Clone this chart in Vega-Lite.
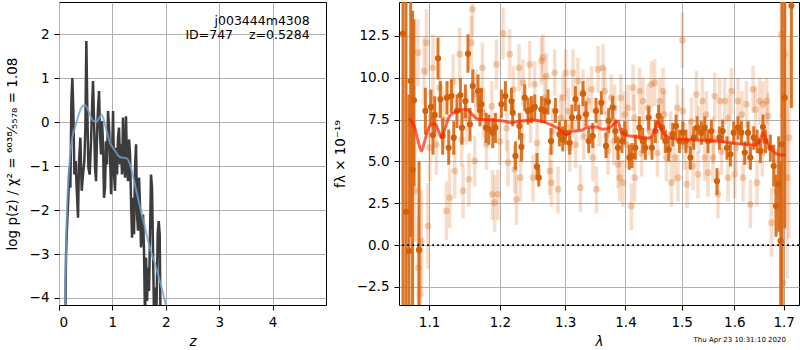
{
  "$schema": "https://vega.github.io/schema/vega-lite/v6.json",
  "padding": {"left": 4, "top": 1, "right": 0, "bottom": 0},
  "background": "white",
  "spacing": 5,
  "config": {
    "font": "DejaVu Sans",
    "view": {"stroke": "#000", "strokeWidth": 1},
    "axis": {"grid": true, "gridColor": "#b0b0b0", "gridWidth": 1, "domain": false, "tickColor": "#000", "tickSize": 5, "labelPadding": 5, "labelFontSize": 13.5, "labelColor": "#000", "titleFontSize": 13.5, "titleFontWeight": "normal", "titleColor": "#000"},
    "axisX": {"titlePadding": 6}
  },
  "datasets": {
    "pz": [{"z":0.113,"p":-5},{"z":0.132,"p":-3.01},{"z":0.157,"p":-2.17},{"z":0.175,"p":-1.72},{"z":0.194,"p":-1.03},{"z":0.213,"p":-1.49},{"z":0.232,"p":0.48},{"z":0.25,"p":1.01},{"z":0.269,"p":0.26},{"z":0.288,"p":-1.19},{"z":0.313,"p":-0.88},{"z":0.331,"p":-1.49},{"z":0.356,"p":-2.17},{"z":0.375,"p":-0.88},{"z":0.4,"p":-0.35},{"z":0.425,"p":-1.56},{"z":0.45,"p":-1.19},{"z":0.475,"p":-0.88},{"z":0.494,"p":-0.12},{"z":0.512,"p":1.85},{"z":0.531,"p":0.26},{"z":0.55,"p":-1.03},{"z":0.575,"p":-1.19},{"z":0.6,"p":-0.43},{"z":0.619,"p":0.33},{"z":0.637,"p":0.94},{"z":0.656,"p":0.03},{"z":0.675,"p":-1.03},{"z":0.694,"p":-1.34},{"z":0.712,"p":-0.28},{"z":0.731,"p":0.33},{"z":0.75,"p":0.71},{"z":0.768,"p":-0.28},{"z":0.787,"p":-0.73},{"z":0.806,"p":0.03},{"z":0.825,"p":-0.5},{"z":0.843,"p":-1.72},{"z":0.862,"p":-1.49},{"z":0.881,"p":-0.43},{"z":0.9,"p":-0.96},{"z":0.918,"p":0.26},{"z":0.937,"p":-0.12},{"z":0.956,"p":-0.73},{"z":0.975,"p":-1.64},{"z":0.993,"p":-0.81},{"z":1.012,"p":0.26},{"z":1.031,"p":-1.19},{"z":1.049,"p":-1.56},{"z":1.068,"p":-0.58},{"z":1.087,"p":-1.19},{"z":1.105,"p":-0.35},{"z":1.124,"p":-0.12},{"z":1.143,"p":-0.96},{"z":1.162,"p":-0.5},{"z":1.18,"p":-1.19},{"z":1.199,"p":0.11},{"z":1.218,"p":-0.88},{"z":1.237,"p":-1.26},{"z":1.255,"p":0.14},{"z":1.274,"p":-1.03},{"z":1.293,"p":-1.34},{"z":1.312,"p":-0.39},{"z":1.33,"p":-0.73},{"z":1.349,"p":-1.79},{"z":1.368,"p":-2.63},{"z":1.386,"p":-1.72},{"z":1.405,"p":-2.55},{"z":1.424,"p":-1.03},{"z":1.443,"p":-0.5},{"z":1.461,"p":-2.1},{"z":1.48,"p":-2.47},{"z":1.499,"p":-1.26},{"z":1.518,"p":-1.94},{"z":1.536,"p":-2.85},{"z":1.555,"p":-2.47},{"z":1.574,"p":-2.1},{"z":1.592,"p":-2.93},{"z":1.611,"p":-4.5},{"z":1.63,"p":-3.08},{"z":1.649,"p":-4.07},{"z":1.667,"p":-3.31},{"z":1.686,"p":-3.84},{"z":1.705,"p":-2.55},{"z":1.723,"p":-1.19},{"z":1.742,"p":-1.49},{"z":1.761,"p":-2.93},{"z":1.78,"p":-4.5},{"z":1.805,"p":-3.76},{"z":1.823,"p":-4.5},{"z":1.848,"p":-2.55},{"z":1.867,"p":-2.25},{"z":1.886,"p":-2.55},{"z":1.904,"p":-5}],
    "pzs": [{"z":0.112,"p":-4.3},{"z":0.144,"p":-2.25},{"z":0.19,"p":-1.03},{"z":0.237,"p":-0.43},{"z":0.3,"p":-0.12},{"z":0.36,"p":0.14},{"z":0.44,"p":0.37},{"z":0.49,"p":0.39},{"z":0.55,"p":0.26},{"z":0.64,"p":0.03},{"z":0.705,"p":0.015},{"z":0.8,"p":0.18},{"z":0.86,"p":-0.05},{"z":0.955,"p":-0.46},{"z":1.05,"p":-0.65},{"z":1.14,"p":-0.79},{"z":1.27,"p":-0.82},{"z":1.33,"p":-0.96},{"z":1.42,"p":-1.41},{"z":1.52,"p":-1.94},{"z":1.61,"p":-2.4},{"z":1.7,"p":-2.85},{"z":1.82,"p":-3.31},{"z":1.92,"p":-3.76},{"z":2.02,"p":-4.25}],
    "ann": [{"z":4.695,"p":2.3,"t":"j003444m4308"},{"z":4.695,"p":1.98,"t":"ID=747\u00a0\u00a0\u00a0\u00a0z=0.5284"}],
    "dk": [{"lam":1.0654,"f":12.64,"lo":-4,"hi":16},{"lam":1.0694,"f":2.0,"lo":-4,"hi":16},{"lam":1.0733,"f":-0.35,"lo":-4,"hi":9},{"lam":1.0755,"f":9.81,"lo":0.5,"hi":16},{"lam":1.078,"f":4.5,"lo":-4,"hi":14},{"lam":1.0799,"f":8.66,"lo":3.5,"hi":13.5},{"lam":1.0866,"f":-0.29,"lo":-4,"hi":5.0},{"lam":1.0951,"f":8.02,"lo":6.6,"hi":9.4},{"lam":1.1027,"f":8.26,"lo":7.2,"hi":9.3},{"lam":1.1054,"f":6.58,"lo":5.4,"hi":7.8},{"lam":1.1077,"f":7.78,"lo":6.7,"hi":8.9},{"lam":1.1122,"f":11.17,"lo":9.9,"hi":12.4},{"lam":1.1155,"f":8.72,"lo":7.6,"hi":9.8},{"lam":1.1186,"f":6.52,"lo":5.4,"hi":7.6},{"lam":1.1246,"f":8.81,"lo":7.8,"hi":9.8},{"lam":1.1269,"f":5.82,"lo":4.8,"hi":6.9},{"lam":1.1307,"f":8.91,"lo":7.9,"hi":9.9},{"lam":1.1339,"f":6.42,"lo":5.4,"hi":7.4},{"lam":1.1384,"f":8.02,"lo":7.0,"hi":9.0},{"lam":1.1432,"f":8.95,"lo":7.9,"hi":10.0},{"lam":1.1454,"f":7.02,"lo":6.0,"hi":8.0},{"lam":1.1502,"f":8.61,"lo":7.6,"hi":9.6},{"lam":1.1539,"f":11.44,"lo":10.3,"hi":12.6},{"lam":1.1567,"f":7.22,"lo":6.2,"hi":8.2},{"lam":1.1606,"f":9.51,"lo":8.5,"hi":10.5},{"lam":1.1682,"f":9.21,"lo":8.2,"hi":10.2},{"lam":1.171,"f":8.06,"lo":7.1,"hi":9.0},{"lam":1.1731,"f":8.42,"lo":7.5,"hi":9.4},{"lam":1.1797,"f":7.02,"lo":6.1,"hi":7.9},{"lam":1.1837,"f":6.92,"lo":6.0,"hi":7.8},{"lam":1.1895,"f":6.72,"lo":5.8,"hi":7.6},{"lam":1.1934,"f":7.02,"lo":6.1,"hi":7.9},{"lam":1.2022,"f":8.42,"lo":7.6,"hi":9.3},{"lam":1.2081,"f":8.91,"lo":8.0,"hi":9.8},{"lam":1.2171,"f":8.61,"lo":7.8,"hi":9.4},{"lam":1.219,"f":7.92,"lo":7.1,"hi":8.7},{"lam":1.2231,"f":5.33,"lo":4.5,"hi":6.2},{"lam":1.2291,"f":7.12,"lo":6.3,"hi":7.9},{"lam":1.2321,"f":5.87,"lo":5.0,"hi":6.7},{"lam":1.2371,"f":8.81,"lo":8.0,"hi":9.6},{"lam":1.2421,"f":8.02,"lo":7.2,"hi":8.8},{"lam":1.2473,"f":8.12,"lo":7.3,"hi":8.9},{"lam":1.2524,"f":8.26,"lo":7.5,"hi":9.0},{"lam":1.2559,"f":4.69,"lo":3.9,"hi":5.5},{"lam":1.2586,"f":4.03,"lo":3.5,"hi":4.6},{"lam":1.2627,"f":8.12,"lo":7.3,"hi":8.9},{"lam":1.2679,"f":8.02,"lo":7.3,"hi":8.8},{"lam":1.273,"f":8.57,"lo":7.8,"hi":9.3},{"lam":1.2777,"f":6.22,"lo":5.4,"hi":7.0},{"lam":1.2846,"f":8.02,"lo":7.3,"hi":8.8},{"lam":1.2909,"f":6.62,"lo":5.9,"hi":7.4},{"lam":1.2962,"f":6.32,"lo":5.6,"hi":7.1},{"lam":1.3005,"f":6.72,"lo":6.0,"hi":7.5},{"lam":1.3073,"f":6.12,"lo":5.4,"hi":6.9},{"lam":1.311,"f":7.62,"lo":6.9,"hi":8.4},{"lam":1.3165,"f":8.72,"lo":8.0,"hi":9.5},{"lam":1.3219,"f":7.62,"lo":6.9,"hi":8.4},{"lam":1.3289,"f":9.05,"lo":8.3,"hi":9.8},{"lam":1.3338,"f":7.82,"lo":7.1,"hi":8.6},{"lam":1.3382,"f":6.22,"lo":5.5,"hi":7.0},{"lam":1.3448,"f":6.52,"lo":5.8,"hi":7.3},{"lam":1.3503,"f":8.02,"lo":7.3,"hi":8.8},{"lam":1.3592,"f":8.51,"lo":7.8,"hi":9.2},{"lam":1.3669,"f":5.93,"lo":5.2,"hi":6.7},{"lam":1.3714,"f":7.42,"lo":6.7,"hi":8.2},{"lam":1.3782,"f":8.22,"lo":7.5,"hi":8.9},{"lam":1.3828,"f":6.82,"lo":6.1,"hi":7.5},{"lam":1.3872,"f":5.82,"lo":5.1,"hi":6.5},{"lam":1.394,"f":6.22,"lo":5.5,"hi":7.0},{"lam":1.3987,"f":6.72,"lo":6.0,"hi":7.4},{"lam":1.4067,"f":5.23,"lo":4.5,"hi":6.0},{"lam":1.4112,"f":5.33,"lo":4.6,"hi":6.1},{"lam":1.4171,"f":5.82,"lo":5.1,"hi":6.6},{"lam":1.4241,"f":7.02,"lo":6.3,"hi":7.7},{"lam":1.4299,"f":6.22,"lo":5.5,"hi":7.0},{"lam":1.4346,"f":5.82,"lo":5.1,"hi":6.5},{"lam":1.4404,"f":7.62,"lo":6.9,"hi":8.3},{"lam":1.4463,"f":5.82,"lo":5.1,"hi":6.5},{"lam":1.4523,"f":6.82,"lo":6.1,"hi":7.5},{"lam":1.4582,"f":7.72,"lo":7.0,"hi":8.4},{"lam":1.4642,"f":7.02,"lo":6.3,"hi":7.7},{"lam":1.4703,"f":6.22,"lo":5.5,"hi":6.9},{"lam":1.4763,"f":5.72,"lo":5.0,"hi":6.4},{"lam":1.4836,"f":6.62,"lo":5.9,"hi":7.3},{"lam":1.4896,"f":7.12,"lo":6.4,"hi":7.8},{"lam":1.4958,"f":6.22,"lo":5.5,"hi":6.9},{"lam":1.5019,"f":6.72,"lo":6.0,"hi":7.4},{"lam":1.508,"f":6.22,"lo":5.5,"hi":6.9},{"lam":1.5161,"f":5.23,"lo":4.5,"hi":5.9},{"lam":1.5223,"f":6.42,"lo":5.7,"hi":7.1},{"lam":1.5285,"f":7.02,"lo":6.3,"hi":7.7},{"lam":1.5367,"f":6.72,"lo":6.0,"hi":7.4},{"lam":1.543,"f":7.02,"lo":6.3,"hi":7.7},{"lam":1.5492,"f":6.22,"lo":5.5,"hi":6.9},{"lam":1.5557,"f":6.82,"lo":6.1,"hi":7.5},{"lam":1.5664,"f":3.83,"lo":3.0,"hi":4.6},{"lam":1.571,"f":6.42,"lo":5.7,"hi":7.1},{"lam":1.5774,"f":6.82,"lo":6.1,"hi":7.5},{"lam":1.5858,"f":5.82,"lo":5.1,"hi":6.5},{"lam":1.5924,"f":5.43,"lo":4.7,"hi":6.1},{"lam":1.5989,"f":6.72,"lo":6.0,"hi":7.4},{"lam":1.6074,"f":7.02,"lo":6.3,"hi":7.7},{"lam":1.6141,"f":6.72,"lo":6.0,"hi":7.4},{"lam":1.6207,"f":5.53,"lo":4.8,"hi":6.2},{"lam":1.6272,"f":6.72,"lo":6.0,"hi":7.4},{"lam":1.632,"f":5.23,"lo":4.5,"hi":5.9},{"lam":1.6386,"f":6.42,"lo":5.7,"hi":7.1},{"lam":1.6453,"f":6.22,"lo":5.5,"hi":6.9},{"lam":1.6521,"f":5.63,"lo":4.9,"hi":6.3},{"lam":1.6574,"f":7.06,"lo":6.3,"hi":7.8},{"lam":1.6623,"f":6.22,"lo":5.5,"hi":6.9},{"lam":1.6725,"f":5.82,"lo":5.0,"hi":6.6},{"lam":1.6793,"f":4.73,"lo":3.5,"hi":6.0},{"lam":1.6841,"f":2.34,"lo":0.5,"hi":4.2},{"lam":1.6896,"f":3.64,"lo":0.8,"hi":6.5},{"lam":1.6938,"f":0.25,"lo":-4,"hi":5},{"lam":1.6965,"f":6.03,"lo":-4,"hi":16},{"lam":1.7022,"f":8.81,"lo":1,"hi":16},{"lam":1.7162,"f":14.3,"lo":8.2,"hi":16}],
    "lt": [{"lam":1.0778,"f":9.41,"lo":6.4,"hi":12.4},{"lam":1.0809,"f":3.24,"lo":0.2,"hi":6.2},{"lam":1.0852,"f":11.5,"lo":9.5,"hi":13.5},{"lam":1.0857,"f":-1.35,"lo":-4.4,"hi":1.7},{"lam":1.0884,"f":-2.94,"lo":-5,"hi":0.1},{"lam":1.0898,"f":0.25,"lo":-2.8,"hi":3.3},{"lam":1.0933,"f":10.4,"lo":8.4,"hi":12.4},{"lam":1.0965,"f":12.1,"lo":10.1,"hi":14.1},{"lam":1.0986,"f":1.14,"lo":-1.4,"hi":3.7},{"lam":1.1009,"f":5.82,"lo":3.8,"hi":7.8},{"lam":1.1054,"f":10.6,"lo":8.6,"hi":12.6},{"lam":1.11,"f":6.0,"lo":4.2,"hi":7.8},{"lam":1.1145,"f":9.41,"lo":7.6,"hi":11.2},{"lam":1.12,"f":7.5,"lo":5.8,"hi":9.2},{"lam":1.1237,"f":2.04,"lo":0.3,"hi":3.8},{"lam":1.1283,"f":2.83,"lo":1.0,"hi":4.6},{"lam":1.133,"f":9.8,"lo":8.2,"hi":11.4},{"lam":1.1353,"f":4.43,"lo":2.8,"hi":6.0},{"lam":1.1422,"f":11.41,"lo":9.8,"hi":13.0},{"lam":1.145,"f":6.3,"lo":4.7,"hi":7.9},{"lam":1.1469,"f":3.24,"lo":1.6,"hi":4.8},{"lam":1.152,"f":7.6,"lo":6.0,"hi":9.2},{"lam":1.1553,"f":3.93,"lo":2.3,"hi":5.5},{"lam":1.1587,"f":12.1,"lo":10.5,"hi":13.7},{"lam":1.1602,"f":14.1,"lo":12.5,"hi":15.7},{"lam":1.1635,"f":5.03,"lo":3.5,"hi":6.5},{"lam":1.165,"f":9.0,"lo":7.5,"hi":10.5},{"lam":1.1745,"f":10.6,"lo":9.1,"hi":12.1},{"lam":1.176,"f":7.9,"lo":6.4,"hi":9.4},{"lam":1.1803,"f":6.03,"lo":4.5,"hi":7.5},{"lam":1.188,"f":8.3,"lo":6.8,"hi":9.8},{"lam":1.189,"f":3.04,"lo":1.5,"hi":4.5},{"lam":1.1924,"f":2.54,"lo":0.8,"hi":4.2},{"lam":1.1949,"f":10.8,"lo":9.3,"hi":12.3},{"lam":1.1972,"f":3.04,"lo":1.5,"hi":4.5},{"lam":1.2,"f":6.2,"lo":4.8,"hi":7.6},{"lam":1.2046,"f":12.66,"lo":11.1,"hi":14.2},{"lam":1.21,"f":7.0,"lo":5.6,"hi":8.4},{"lam":1.212,"f":4.93,"lo":3.5,"hi":6.3},{"lam":1.2145,"f":11.41,"lo":9.9,"hi":12.9},{"lam":1.22,"f":9.3,"lo":7.9,"hi":10.7},{"lam":1.222,"f":4.53,"lo":3.1,"hi":5.9},{"lam":1.2246,"f":2.74,"lo":1.2,"hi":4.2},{"lam":1.2285,"f":10.6,"lo":9.2,"hi":12.0},{"lam":1.2306,"f":4.03,"lo":2.6,"hi":5.4},{"lam":1.233,"f":6.5,"lo":5.1,"hi":7.9},{"lam":1.2345,"f":9.71,"lo":8.3,"hi":11.1},{"lam":1.2447,"f":10.8,"lo":9.4,"hi":12.2},{"lam":1.246,"f":7.5,"lo":6.1,"hi":8.9},{"lam":1.2498,"f":4.03,"lo":2.6,"hi":5.4},{"lam":1.2524,"f":9.61,"lo":8.2,"hi":11.0},{"lam":1.256,"f":6.1,"lo":4.7,"hi":7.5},{"lam":1.2627,"f":11.0,"lo":9.6,"hi":12.4},{"lam":1.2652,"f":11.2,"lo":9.8,"hi":12.6},{"lam":1.268,"f":8.8,"lo":7.4,"hi":10.2},{"lam":1.2705,"f":10.1,"lo":8.7,"hi":11.5},{"lam":1.2756,"f":4.43,"lo":3.0,"hi":5.8},{"lam":1.2783,"f":3.73,"lo":2.3,"hi":5.1},{"lam":1.28,"f":6.8,"lo":5.4,"hi":8.2},{"lam":1.2835,"f":10.3,"lo":8.9,"hi":11.7},{"lam":1.2887,"f":3.34,"lo":1.9,"hi":4.7},{"lam":1.293,"f":7.6,"lo":6.2,"hi":9.0},{"lam":1.2966,"f":8.81,"lo":7.4,"hi":10.2},{"lam":1.3009,"f":10.3,"lo":8.9,"hi":11.7},{"lam":1.305,"f":8.0,"lo":6.6,"hi":9.4},{"lam":1.3073,"f":5.82,"lo":4.4,"hi":7.2},{"lam":1.3126,"f":10.3,"lo":8.9,"hi":11.7},{"lam":1.317,"f":6.0,"lo":4.6,"hi":7.4},{"lam":1.3207,"f":9.81,"lo":8.4,"hi":11.2},{"lam":1.3246,"f":3.43,"lo":2.0,"hi":4.8},{"lam":1.3289,"f":9.11,"lo":7.7,"hi":10.5},{"lam":1.33,"f":6.5,"lo":5.1,"hi":7.9},{"lam":1.337,"f":8.61,"lo":7.2,"hi":10.0},{"lam":1.343,"f":9.3,"lo":7.9,"hi":10.7},{"lam":1.3453,"f":5.23,"lo":3.8,"hi":6.6},{"lam":1.3509,"f":3.34,"lo":1.9,"hi":4.7},{"lam":1.3536,"f":10.5,"lo":9.1,"hi":11.9},{"lam":1.356,"f":7.3,"lo":5.9,"hi":8.7},{"lam":1.3619,"f":10.6,"lo":9.2,"hi":12.0},{"lam":1.3648,"f":9.21,"lo":7.8,"hi":10.6},{"lam":1.368,"f":6.6,"lo":5.2,"hi":8.0},{"lam":1.3703,"f":5.63,"lo":4.2,"hi":7.0},{"lam":1.376,"f":8.81,"lo":7.4,"hi":10.2},{"lam":1.38,"f":6.2,"lo":4.8,"hi":7.6},{"lam":1.3816,"f":8.21,"lo":6.8,"hi":9.6},{"lam":1.3872,"f":4.83,"lo":3.4,"hi":6.2},{"lam":1.3901,"f":4.03,"lo":2.6,"hi":5.4},{"lam":1.392,"f":8.8,"lo":7.4,"hi":10.2},{"lam":1.3957,"f":3.73,"lo":2.3,"hi":5.1},{"lam":1.3987,"f":7.82,"lo":6.4,"hi":9.2},{"lam":1.402,"f":6.0,"lo":4.6,"hi":7.4},{"lam":1.4043,"f":8.21,"lo":6.8,"hi":9.6},{"lam":1.4102,"f":2.34,"lo":0.9,"hi":3.7},{"lam":1.4129,"f":9.41,"lo":8.0,"hi":10.8},{"lam":1.415,"f":7.6,"lo":6.2,"hi":9.0},{"lam":1.4159,"f":4.03,"lo":2.6,"hi":5.4},{"lam":1.4246,"f":9.21,"lo":7.8,"hi":10.6},{"lam":1.428,"f":5.5,"lo":4.1,"hi":6.9},{"lam":1.4304,"f":8.61,"lo":7.2,"hi":10.0},{"lam":1.4392,"f":8.21,"lo":6.8,"hi":9.6},{"lam":1.442,"f":6.8,"lo":5.4,"hi":8.2},{"lam":1.4452,"f":9.61,"lo":8.2,"hi":11.0},{"lam":1.4511,"f":9.71,"lo":8.3,"hi":11.1},{"lam":1.456,"f":5.5,"lo":4.1,"hi":6.9},{"lam":1.46,"f":8.61,"lo":7.2,"hi":10.0},{"lam":1.466,"f":9.21,"lo":7.8,"hi":10.6},{"lam":1.468,"f":7.8,"lo":6.4,"hi":9.2},{"lam":1.4721,"f":5.23,"lo":3.8,"hi":6.6},{"lam":1.48,"f":6.6,"lo":5.2,"hi":8.0},{"lam":1.4812,"f":3.73,"lo":2.3,"hi":5.1},{"lam":1.4872,"f":5.23,"lo":3.8,"hi":6.6},{"lam":1.492,"f":8.2,"lo":6.8,"hi":9.6},{"lam":1.4932,"f":4.03,"lo":2.6,"hi":5.4},{"lam":1.5013,"f":12.24,"lo":10.6,"hi":13.9},{"lam":1.5019,"f":8.02,"lo":6.6,"hi":9.4},{"lam":1.506,"f":5.9,"lo":4.5,"hi":7.3},{"lam":1.5098,"f":3.64,"lo":2.2,"hi":5.0},{"lam":1.5148,"f":6.03,"lo":4.6,"hi":7.4},{"lam":1.518,"f":7.4,"lo":6.0,"hi":8.8},{"lam":1.521,"f":4.73,"lo":3.3,"hi":6.1},{"lam":1.5273,"f":9.01,"lo":7.6,"hi":10.4},{"lam":1.5303,"f":4.23,"lo":2.8,"hi":5.6},{"lam":1.532,"f":6.9,"lo":5.5,"hi":8.3},{"lam":1.5386,"f":8.61,"lo":7.2,"hi":10.0},{"lam":1.543,"f":5.23,"lo":3.8,"hi":6.6},{"lam":1.546,"f":7.8,"lo":6.4,"hi":9.2},{"lam":1.5492,"f":4.33,"lo":2.9,"hi":5.7},{"lam":1.5587,"f":5.23,"lo":3.8,"hi":6.6},{"lam":1.56,"f":6.3,"lo":4.9,"hi":7.7},{"lam":1.562,"f":8.91,"lo":7.5,"hi":10.3},{"lam":1.5683,"f":3.04,"lo":1.6,"hi":4.4},{"lam":1.5716,"f":8.61,"lo":7.2,"hi":10.0},{"lam":1.575,"f":5.6,"lo":4.2,"hi":7.0},{"lam":1.5813,"f":8.61,"lo":7.2,"hi":10.0},{"lam":1.5877,"f":4.03,"lo":2.6,"hi":5.4},{"lam":1.589,"f":7.6,"lo":6.2,"hi":9.0},{"lam":1.5943,"f":9.21,"lo":7.8,"hi":10.6},{"lam":1.6009,"f":4.23,"lo":2.8,"hi":5.6},{"lam":1.603,"f":5.8,"lo":4.4,"hi":7.2},{"lam":1.6074,"f":8.61,"lo":7.2,"hi":10.0},{"lam":1.615,"f":7.8,"lo":6.4,"hi":9.2},{"lam":1.6173,"f":4.03,"lo":2.6,"hi":5.4},{"lam":1.624,"f":8.42,"lo":7.0,"hi":9.8},{"lam":1.629,"f":6.0,"lo":4.6,"hi":7.4},{"lam":1.632,"f":2.44,"lo":1.0,"hi":3.9},{"lam":1.6372,"f":9.31,"lo":7.9,"hi":10.7},{"lam":1.642,"f":8.1,"lo":6.7,"hi":9.5},{"lam":1.6453,"f":3.73,"lo":2.3,"hi":5.1},{"lam":1.6507,"f":8.61,"lo":7.2,"hi":10.0},{"lam":1.656,"f":5.5,"lo":4.1,"hi":6.9},{"lam":1.6574,"f":8.42,"lo":7.0,"hi":9.8},{"lam":1.665,"f":8.6,"lo":7.2,"hi":10.0},{"lam":1.6676,"f":7.72,"lo":6.3,"hi":9.1},{"lam":1.6746,"f":1.34,"lo":-0.7,"hi":3.4},{"lam":1.6849,"f":3.24,"lo":0.7,"hi":5.7},{"lam":1.6953,"f":12.6,"lo":7.6,"hi":16},{"lam":1.6986,"f":-2.24,"lo":-5,"hi":2.8},{"lam":1.7022,"f":11.41,"lo":5.4,"hi":16},{"lam":1.707,"f":4.03,"lo":-2,"hi":10},{"lam":1.7111,"f":6.42,"lo":0.4,"hi":12.4}],
    "model": [{"lam":1.0733,"f":7.58},{"lam":1.0809,"f":7.02},{"lam":1.0853,"f":6.22},{"lam":1.0898,"f":5.63},{"lam":1.0942,"f":6.22},{"lam":1.1009,"f":7.12},{"lam":1.1077,"f":7.26},{"lam":1.1122,"f":6.92},{"lam":1.1169,"f":6.42},{"lam":1.1214,"f":6.92},{"lam":1.1283,"f":7.72},{"lam":1.1399,"f":8.02},{"lam":1.1517,"f":8.12},{"lam":1.1588,"f":7.86},{"lam":1.1682,"f":7.52},{"lam":1.1851,"f":7.48},{"lam":1.2046,"f":7.42},{"lam":1.2145,"f":7.32},{"lam":1.2321,"f":7.42},{"lam":1.2498,"f":7.48},{"lam":1.2652,"f":7.38},{"lam":1.2757,"f":7.22},{"lam":1.2914,"f":6.92},{"lam":1.3021,"f":6.58},{"lam":1.3127,"f":6.82},{"lam":1.3263,"f":6.86},{"lam":1.3371,"f":7.06},{"lam":1.3509,"f":7.06},{"lam":1.3619,"f":6.92},{"lam":1.3732,"f":7.02},{"lam":1.3872,"f":7.42},{"lam":1.393,"f":6.72},{"lam":1.4072,"f":6.52},{"lam":1.4246,"f":6.46},{"lam":1.4392,"f":6.38},{"lam":1.4482,"f":6.62},{"lam":1.4571,"f":7.38},{"lam":1.4661,"f":6.72},{"lam":1.4813,"f":6.38},{"lam":1.5025,"f":6.32},{"lam":1.5337,"f":6.26},{"lam":1.5654,"f":6.22},{"lam":1.5977,"f":6.1},{"lam":1.6174,"f":6.02},{"lam":1.6442,"f":5.98},{"lam":1.6509,"f":6.22},{"lam":1.6576,"f":6.72},{"lam":1.6645,"f":6.22},{"lam":1.6748,"f":5.72},{"lam":1.6884,"f":5.42},{"lam":1.7044,"f":5.38}],
    "ts": [{"lam":1.6107,"f":-5.67,"t":"Thu Apr 23 10:31:10 2020"}]
  },
  "hconcat": [
    {
      "width": 267,
      "height": 303,
      "layer": [
        {
          "data": {"name": "pz"},
          "mark": {"type": "line", "color": "#3c3c3c", "strokeWidth": 2.5, "clip": true},
          "encoding": {
            "x": {"field": "z", "type": "quantitative", "scale": {"domain": [0, 5], "nice": false, "zero": false}, "axis": {"values": [0, 1, 2, 3, 4], "format": "d", "titleFontStyle": "italic"}, "title": "z"},
            "y": {"field": "p", "type": "quantitative", "scale": {"domain": [-4.16, 2.74], "nice": false, "zero": false}, "axis": {"values": [-4, -3, -2, -1, 0, 1, 2], "format": "d", "minExtent": 34, "maxExtent": 34, "titlePadding": 6}, "title": "log p(z) / χ² = ⁶⁰³⁸⁄₅₅₇₈ = 1.08"}
          }
        },
        {
          "data": {"name": "pzs"},
          "mark": {"type": "line", "color": "#6fa3d0", "opacity": 0.8, "strokeWidth": 2, "interpolate": "monotone", "clip": true},
          "encoding": {
            "x": {"field": "z", "type": "quantitative", "title": "z"},
            "y": {"field": "p", "type": "quantitative", "title": "log p(z) / χ² = ⁶⁰³⁸⁄₅₅₇₈ = 1.08"}
          }
        },
        {
          "data": {"name": "ann"},
          "mark": {"type": "text", "align": "right", "baseline": "middle", "fontSize": 12.5, "color": "#000"},
          "encoding": {
            "x": {"field": "z", "type": "quantitative", "title": "z"},
            "y": {"field": "p", "type": "quantitative", "title": "log p(z) / χ² = ⁶⁰³⁸⁄₅₅₇₈ = 1.08"},
            "text": {"field": "t"}
          }
        }
      ]
    },
    {
      "width": 400,
      "height": 303,
      "layer": [
        {
          "data": {"name": "lt"},
          "mark": {"type": "rule", "color": "#d9660f", "opacity": 0.22, "strokeWidth": 3.5, "clip": true},
          "encoding": {
            "x": {"field": "lam", "type": "quantitative", "scale": {"type": "log", "domain": [1.0602, 1.7323], "nice": false, "zero": false}, "axis": {"values": [1.1, 1.2, 1.3, 1.4, 1.5, 1.6, 1.7], "format": ".1f", "titleFontStyle": "italic"}, "title": "λ"},
            "y": {"field": "lo", "type": "quantitative", "scale": {"domain": [-3.58, 14.53], "nice": false, "zero": false}, "axis": {"values": [-2.5, 0, 2.5, 5, 7.5, 10, 12.5], "format": ".1f", "minExtent": 40, "maxExtent": 40, "titlePadding": 12}, "title": "fλ × 10⁻¹⁹"},
            "y2": {"field": "hi"}
          }
        },
        {
          "data": {"name": "lt"},
          "mark": {"type": "circle", "color": "#d9660f", "opacity": 0.3, "size": 45, "clip": true},
          "encoding": {
            "x": {"field": "lam", "type": "quantitative", "title": "λ"},
            "y": {"field": "f", "type": "quantitative", "title": "fλ × 10⁻¹⁹"}
          }
        },
        {
          "data": {"name": "dk"},
          "mark": {"type": "rule", "color": "#d9660f", "opacity": 0.9, "strokeWidth": 3, "clip": true},
          "encoding": {
            "x": {"field": "lam", "type": "quantitative", "title": "λ"},
            "y": {"field": "lo", "type": "quantitative", "title": "fλ × 10⁻¹⁹"},
            "y2": {"field": "hi"}
          }
        },
        {
          "data": {"name": "dk"},
          "mark": {"type": "circle", "color": "#d2600a", "opacity": 1, "size": 38, "clip": true},
          "encoding": {
            "x": {"field": "lam", "type": "quantitative", "title": "λ"},
            "y": {"field": "f", "type": "quantitative", "title": "fλ × 10⁻¹⁹"}
          }
        },
        {
          "data": {"name": "model"},
          "mark": {"type": "line", "color": "#ff2200", "opacity": 0.7, "strokeWidth": 3, "interpolate": "monotone", "clip": true},
          "encoding": {
            "x": {"field": "lam", "type": "quantitative", "title": "λ"},
            "y": {"field": "f", "type": "quantitative", "title": "fλ × 10⁻¹⁹"}
          }
        },
        {
          "data": {"values": [{"f": 0}]},
          "mark": {"type": "rule", "color": "#000", "strokeWidth": 1.8, "strokeDash": [1.8, 3.2]},
          "encoding": {
            "y": {"field": "f", "type": "quantitative", "title": "fλ × 10⁻¹⁹"}
          }
        },
        {
          "data": {"name": "ts"},
          "mark": {"type": "text", "fontSize": 7, "align": "center", "baseline": "middle", "color": "#000"},
          "encoding": {
            "x": {"field": "lam", "type": "quantitative", "title": "λ"},
            "y": {"field": "f", "type": "quantitative", "title": "fλ × 10⁻¹⁹"},
            "text": {"field": "t"}
          }
        }
      ]
    }
  ]
}
